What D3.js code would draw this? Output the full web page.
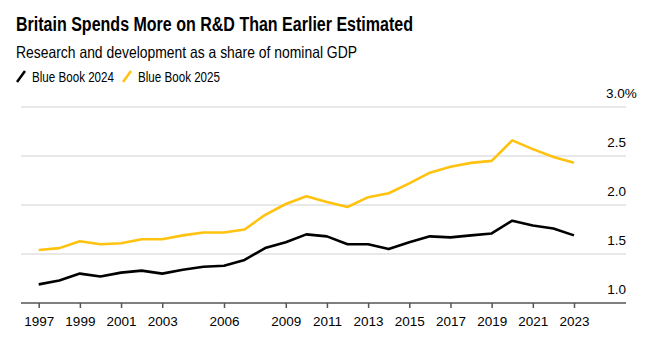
<!DOCTYPE html>
<html>
<head>
<meta charset="utf-8">
<script src="https://cdn.jsdelivr.net/npm/d3@7"></script>
<style>
  body { margin: 0; background: #fff; }
  svg { font-family: "Liberation Sans", Arial, sans-serif; }
</style>
</head>
<body>
<svg id="chart" width="658" height="353"></svg>
<script>
const years = d3.range(1997, 2024);
const book2024 = [1.19, 1.23, 1.30, 1.27, 1.31, 1.33, 1.30, 1.34, 1.37, 1.38, 1.44, 1.56, 1.62, 1.70,
  1.68, 1.60, 1.60, 1.55, 1.62, 1.68, 1.67, 1.69, 1.71, 1.84, 1.79, 1.76, 1.69];
const book2025 = [1.54, 1.56, 1.63, 1.60, 1.61, 1.65, 1.65, 1.69, 1.72, 1.72, 1.75, 1.90, 2.01, 2.09,
  2.03, 1.98, 2.08, 2.12, 2.22, 2.33, 2.39, 2.43, 2.45, 2.66, 2.57, 2.49, 2.43];
const xTicks = [1997, 1999, 2001, 2003, 2006, 2009, 2011, 2013, 2015, 2017, 2019, 2021, 2023];
const yTicks = [1.0, 1.5, 2.0, 2.5, 3.0];
const seriesNames = ["Blue Book 2024", "Blue Book 2025"];
const colors = ["#000000", "#ffc20e"];

const svg = d3.select("#chart");

svg.append("text").attr("x", 16).attr("y", 31)
  .attr("font-size", 20).attr("font-weight", "bold")
  .attr("textLength", 397).attr("lengthAdjust", "spacingAndGlyphs")
  .text("Britain Spends More on R&D Than Earlier Estimated");
svg.append("text").attr("x", 16).attr("y", 57.5)
  .attr("font-size", 16.5)
  .attr("textLength", 341).attr("lengthAdjust", "spacingAndGlyphs")
  .text("Research and development as a share of nominal GDP");

// legend
let lx = [17, 123];
seriesNames.forEach((n, i) => {
  svg.append("line").attr("x1", lx[i]).attr("y1", 82).attr("x2", lx[i] + 8).attr("y2", 71)
    .attr("stroke", colors[i]).attr("stroke-width", 2.5);
  svg.append("text").attr("x", lx[i] + 15).attr("y", 81.5).attr("font-size", 14)
    .attr("textLength", 82).attr("lengthAdjust", "spacingAndGlyphs").text(n);
});

const x = d3.scaleLinear().domain([1997, 2023]).range([38.7, 574]);
const y = d3.scaleLinear().domain([1, 3]).range([303, 107]);

// grid
svg.append("g").selectAll("line").data(yTicks.slice(1)).enter().append("line")
  .attr("x1", 21).attr("x2", 626)
  .attr("y1", d => y(d)).attr("y2", d => y(d))
  .attr("stroke", "#e0e0e0").attr("stroke-width", 1.5);

svg.append("g").selectAll("text").data(yTicks).enter().append("text")
  .attr("x", d => d === 3.0 ? 606 : 626).attr("y", d => y(d) - 9)
  .attr("text-anchor", d => d === 3.0 ? "start" : "end").attr("font-size", 13.5)
  .text(d => d.toFixed(1) + (d === 3.0 ? "%" : ""));

// x axis
const xAxis = d3.axisBottom(x).tickValues(xTicks).tickFormat(d3.format("d")).tickSize(5).tickPadding(8);
const gx = svg.append("g").attr("transform", "translate(0,303)").call(xAxis);
gx.select(".domain").attr("d", "M21,0H626").attr("stroke", "#555").attr("stroke-width", 1.5);
gx.selectAll(".tick line").attr("stroke", "#555").attr("stroke-width", 1.5);
gx.selectAll(".tick text").attr("font-size", 13.5).attr("font-family", "Liberation Sans, Arial, sans-serif").attr("fill", "#000");

const line = d3.line().x((d, i) => x(years[i])).y(d => y(d));
[book2025, book2024].forEach((s, k) => {
  svg.append("path").datum(s).attr("d", line)
    .attr("fill", "none").attr("stroke", k === 0 ? colors[1] : colors[0])
    .attr("stroke-width", 2.6).attr("stroke-linejoin", "round");
});
</script>
</body>
</html>
